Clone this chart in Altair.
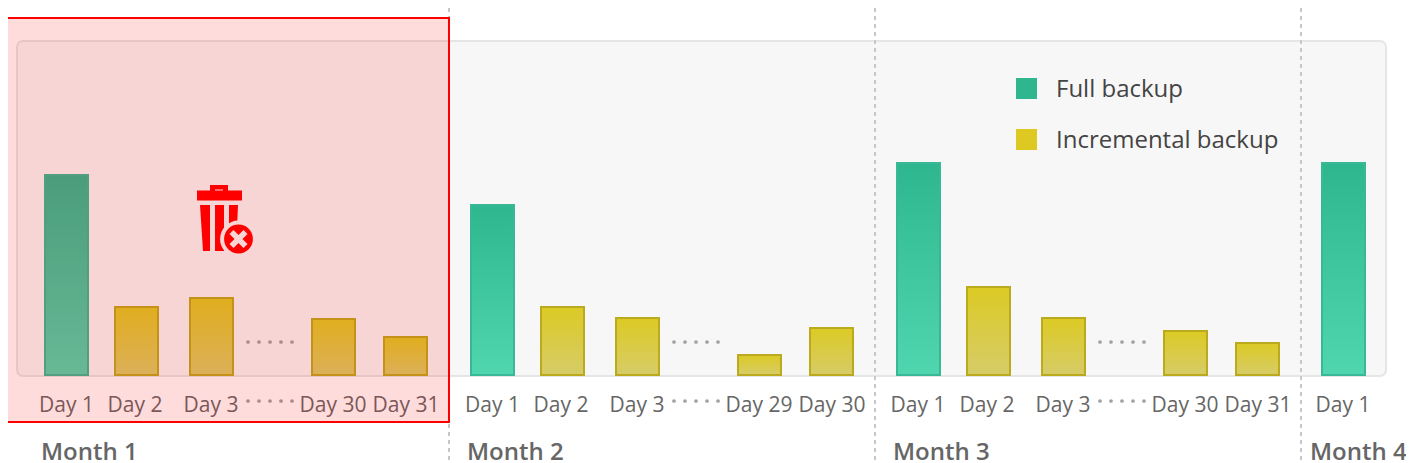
import altair as alt
import pandas as pd

# x axis units: horizontal slots along the timeline; y axis units: backup size
day_labels = ["Day 1", "Day 2", "Day 3", "Day 30", "Day 31",
              "Day 1", "Day 2", "Day 3", "Day 29", "Day 30",
              "Day 1", "Day 2", "Day 3", "Day 30", "Day 31",
              "Day 1"]
day_slots = [66.5, 136.5, 211.5, 333.5, 405.5,
             492.5, 562.5, 637.5, 759.5, 831.5,
             918.5, 988.5, 1063.5, 1185.5, 1257.5,
             1343.5]
label_slots = [66.5, 135, 211, 333, 406,
               492.5, 561, 637, 759, 832,
               918, 987, 1063, 1185, 1258,
               1343]
sizes = [201, 69, 78, 57, 39,
         171, 69, 58, 21, 48,
         213, 89, 58, 45, 33,
         213]
kinds = ["Full", "Inc", "Inc", "Inc", "Inc",
         "Full", "Inc", "Inc", "Inc", "Inc",
         "Full", "Inc", "Inc", "Inc", "Inc",
         "Full"]
month_labels = ["Month 1", "Month 2", "Month 3", "Month 4"]
month_slots = [41, 467, 893, 1310]
divider_slots = [449, 875, 1301]
dot_slots = [248, 259, 270, 281, 292,
             674, 685, 696, 707, 718,
             1100, 1111, 1122, 1133, 1144]
legend_labels = ["Full backup", "Incremental backup"]
legend_colors = ["#2eb78e", "#dec923"]
legend_levels = [287.5, 236.5]
legend_text_levels = [286.5, 235.5]

W, H = 1398, 455
XS = alt.Scale(domain=[8, 1406], nice=False, zero=False, padding=0)
YS = alt.Scale(domain=[-87, 368], nice=False, zero=False, padding=0)
X = alt.X("x:Q", scale=XS, axis=None)
Y = alt.Y("y:Q", scale=YS, axis=None)
FONT = "Open Sans"

bars = pd.DataFrame({"x": day_slots, "y": sizes, "kind": kinds, "base": 1})
labels = pd.DataFrame({"x": label_slots, "text": day_labels, "y": -35.5})
months = pd.DataFrame({"x": month_slots, "text": month_labels, "y": -84})
dividers = pd.DataFrame({"x": divider_slots, "y": [376] * 3, "y2": [-87] * 3})
dots = pd.DataFrame({"x": dot_slots, "hi": [34] * len(dot_slots), "lo": [-25] * len(dot_slots)})
panel = pd.DataFrame({"x": [17], "x2": [1386], "y": [335], "y2": [0]})
legend = pd.DataFrame({"x": [1026.5] * 2, "tx": [1056] * 2, "y": legend_levels, "ty": legend_text_levels,
                       "text": legend_labels, "c": legend_colors})
zone = pd.DataFrame({"x": [1], "x2": [449], "y": [358], "y2": [-46]})


def grad(top, bottom):
    return alt.Gradient(gradient="linear", x1=0, x2=0, y1=0, y2=1,
                        stops=[alt.GradientStop(offset=0, color=top),
                               alt.GradientStop(offset=1, color=bottom)])


def bar_layer(kind, top, bottom, edge):
    return alt.Chart(bars[bars.kind == kind]).mark_bar(
        size=43, fill=grad(top, bottom), stroke=edge, strokeWidth=2, clip=False
    ).encode(x=X, y=Y, y2=alt.Y2("base:Q"))


layers = [
    alt.Chart(panel).mark_rect(fill="#f7f7f7", stroke="#e6e6e6", strokeWidth=2, cornerRadius=6)
    .encode(x=X, x2="x2:Q", y=Y, y2="y2:Q"),
    alt.Chart(dividers).mark_rule(color="#c8c8c8", strokeWidth=2, strokeDash=[4, 4])
    .encode(x=X, y=Y, y2="y2:Q"),
    bar_layer("Full", "#2eb78e", "#50d6ae", "#38b896"),
    bar_layer("Inc", "#dcca24", "#d6cc68", "#bba91e"),
    alt.Chart(dots).mark_circle(size=14, color="#a0a0a0", opacity=1).encode(x=X, y=alt.Y("hi:Q", scale=YS, axis=None)),
    alt.Chart(dots).mark_circle(size=14, color="#a0a0a0", opacity=1).encode(x=X, y=alt.Y("lo:Q", scale=YS, axis=None)),
    alt.Chart(labels).mark_text(font=FONT, fontSize=21, color="#666666", align="center", baseline="alphabetic")
    .encode(x=X, y=Y, text="text:N"),
    alt.Chart(months).mark_text(font=FONT, fontSize=24, fontWeight=600, color="#666666", align="left", baseline="alphabetic")
    .encode(x=X, y=Y, text="text:N"),
    alt.Chart(legend).mark_square(size=441, opacity=1, filled=True)
    .encode(x=X, y=Y, color=alt.Color("c:N", scale=None)),
    alt.Chart(legend).mark_text(font=FONT, fontSize=24, color="#444444", align="left", baseline="middle")
    .encode(x=alt.X("tx:Q", scale=XS, axis=None), y=alt.Y("ty:Q", scale=YS, axis=None), text="text:N"),
    alt.Chart(zone).mark_rect(fill="#ff0000", fillOpacity=0.137, stroke="#ff0000", strokeWidth=2)
    .encode(x=X, x2="x2:Q", y=Y, y2="y2:Q"),
]

# trash-can glyph: drawn in pixel units around its anchor
ICON = pd.DataFrame({"x": [219.5], "y": [158]})
ICON_C = pd.DataFrame({"x": [238.5], "y": [137]})
can = ("M-9.5-33H8.5V-27.5H22.5V-17.5H-22.5V-27.5H-9.5Z"
       "M-4.5-28.5V-27.5H3.5V-28.5Z"
       "M-19.5-13H-9.5V33H-16.5Z"
       "M-4.5-13H4.5V33H-4.5Z"
       "M9.5-13H18.5L16.5 33H9.5Z")
cross = "M-9-5L-5-9L0-4L5-9L9-5L4 0L9 5L5 9L0 4L-5 9L-9 5L-4 0Z"
layers += [
    alt.Chart(ICON).mark_point(shape=can, size=4, filled=True, fill="#ff0000", opacity=1, strokeWidth=0).encode(x=X, y=Y),
    alt.Chart(ICON_C).mark_circle(size=1360, color="#f9d5d5", opacity=1).encode(x=X, y=Y),
    alt.Chart(ICON_C).mark_circle(size=830, color="#ff0000", opacity=1).encode(x=X, y=Y),
    alt.Chart(ICON_C).mark_point(shape=cross, size=4, filled=True, fill="#f9d5d5", opacity=1, strokeWidth=0).encode(x=X, y=Y),
]

chart = alt.layer(*layers).properties(
    width=W, height=H, padding=0, autosize=alt.AutoSizeParams(type="none"), background="#ffffff"
).configure_view(stroke=None)

chart.save("out.html", embed_options={"renderer": "svg", "actions": False})
